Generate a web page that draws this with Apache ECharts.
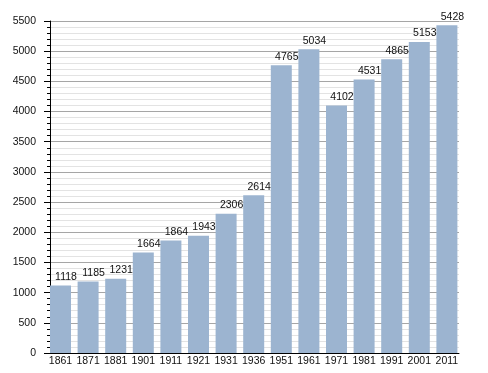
<!DOCTYPE html>
<html>
<head>
<meta charset="utf-8">
<script src="https://cdn.jsdelivr.net/npm/echarts@6/dist/echarts.min.js"></script>
<style>html,body{margin:0;padding:0;background:#fff}#c{width:488px;height:373px}</style>
</head>
<body>
<div id="c"></div>
<script>
var categories = ['1861','1871','1881','1901','1911','1921','1931','1936','1951','1961','1971','1981','1991','2001','2011'];
var population = [1118,1185,1231,1664,1864,1943,2306,2614,4765,5034,4102,4531,4865,5153,5428];
var yTicks = [0,500,1000,1500,2000,2500,3000,3500,4000,4500,5000,5500];

var FONT = 'Liberation Sans';
var chart = echarts.init(document.getElementById('c'), null, {renderer:'canvas'});
chart.setOption({
  animation: false,
  backgroundColor: '#ffffff',
  grid: [
    {left: 50, right: 29, top: 21, bottom: 20},
    {left: 46.7, right: 27.3, top: 21, bottom: 20}
  ],
  xAxis: [
    {gridIndex: 0, type: 'category', data: categories,
     axisLine: {show: true, lineStyle: {color: '#000', width: 1}},
     axisTick: {show: false}, axisLabel: {show: false}, splitLine: {show: false}},
    {gridIndex: 1, type: 'category', data: categories,
     axisLine: {show: false}, axisTick: {show: false},
     axisLabel: {show: true, margin: 3, color: '#111', fontFamily: FONT, fontSize: 10.5, interval: 0},
     splitLine: {show: false}}
  ],
  yAxis: [
    {gridIndex: 0, type: 'value', min: yTicks[0], max: yTicks[yTicks.length-1], interval: 500,
     axisLine: {show: true, lineStyle: {color: '#000', width: 1}},
     axisTick: {show: true, length: 6, lineStyle: {color: '#000'}},
     minorTick: {show: true, splitNumber: 5, length: 3, lineStyle: {color: '#000'}},
     axisLabel: {margin: 14, color: '#111', fontFamily: FONT, fontSize: 10.5,
                 formatter: function (v) { return String(v); }},
     splitLine: {show: true, lineStyle: {color: '#a6a6a6', width: 1}},
     minorSplitLine: {show: true, lineStyle: {color: '#e3e3e3', width: 1}}},
    {gridIndex: 1, type: 'value', min: yTicks[0], max: yTicks[yTicks.length-1], interval: 500,
     show: false, splitLine: {show: false}}
  ],
  series: [{
    type: 'bar', xAxisIndex: 1, yAxisIndex: 1,
    data: population, barWidth: 21,
    itemStyle: {color: '#9cb4d0'},
    label: {show: true, position: 'top', distance: 3, offset: [5.5, 0],
            color: '#111', fontFamily: FONT, fontSize: 10.5}
  }]
});
</script>
</body>
</html>
